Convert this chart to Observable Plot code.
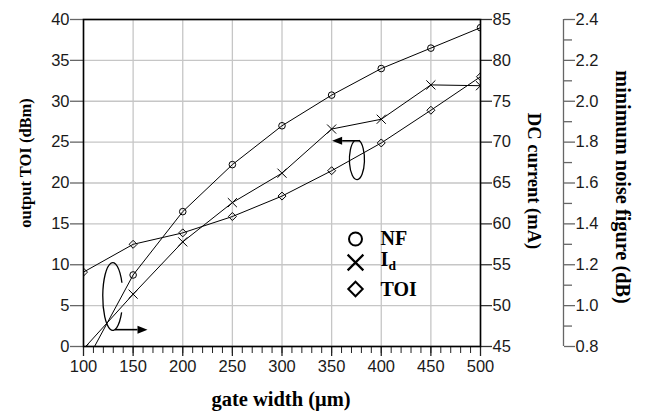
<!DOCTYPE html>
<html>
<head>
<meta charset="utf-8">
<script src="https://cdn.jsdelivr.net/npm/d3@7"></script>
<script src="https://cdn.jsdelivr.net/npm/@observablehq/plot@0.6"></script>
<style>
  html, body { margin: 0; padding: 0; background: #fff; }
</style>
</head>
<body>
<div id="chart"></div>
<script>
// ---- data ----
const gateWidth   = [100, 150, 200, 250, 300, 350, 400, 450, 500];      // µm
const noiseFigure = [0.70, 1.15, 1.46, 1.69, 1.88, 2.03, 2.16, 2.26, 2.36]; // dB
const dcCurrent   = [44.7, 51.4, 57.8, 62.6, 66.2, 71.6, 72.8, 77.0, 76.9]; // mA
const outputTOI   = [9.1, 12.5, 13.9, 15.9, 18.4, 21.5, 24.9, 28.9, 33.0];  // dBm

// ---- tick labels ----
const xTicks     = [100, 150, 200, 250, 300, 350, 400, 450, 500];
const xMinor     = d3.range(100, 501, 10);
const toiTicks   = [0, 5, 10, 15, 20, 25, 30, 35, 40];
const dcTicks    = [45, 50, 55, 60, 65, 70, 75, 80, 85];
const nfTicks    = [0.8, 1.0, 1.2, 1.4, 1.6, 1.8, 2.0, 2.2, 2.4];
const nfMinor    = [0.9, 1.1, 1.3, 1.5, 1.7, 1.9, 2.1, 2.3];

// ---- legend ----
const legendItems = ["NF", "I", "TOI"];

// ---- axis mappings onto the left (TOI) scale ----
const dcToY = d => d - 45;
const yToDc = t => t + 45;
const nfToY = n => (n - 0.8) / 1.6 * 40;
const yToNf = t => 0.8 + t / 40 * 1.6;

const nfData  = gateWidth.map((g, i) => ({g, v: nfToY(noiseFigure[i])}));
const dcData  = gateWidth.map((g, i) => ({g, v: dcToY(dcCurrent[i])}));
const toiData = gateWidth.map((g, i) => ({g, v: outputTOI[i]}));

// ---- annotation anchors (data units) ----
const loops  = [
  {cx: 376, cy: 22.8, rx: 7.6, ry: 2.44, a0: 285, a1: 610},
  {cx: 130, cy: 6.05, rx: 10.1, ry: 4.15, a0: 28, a1: 336}
];
const arrows = [
  {x1: 379, y1: 25.1, x2: 351, y2: 25.1},
  {x1: 132, y1: 2.0, x2: 165, y2: 2.0}
];

function annotations(index, scales) {
  const x = scales.x, y = scales.y;
  const g = d3.create("svg:g").attr("fill", "none").attr("stroke", "black").attr("stroke-width", 1.3);
  for (const L of loops) {
    const cx = x(L.cx), cy = y(L.cy);
    const rx = Math.abs(x(L.cx + L.rx) - cx), ry = Math.abs(y(L.cy + L.ry) - cy);
    const p = a => [cx + rx * Math.cos(a * Math.PI / 180), cy + ry * Math.sin(a * Math.PI / 180)];
    const am = (L.a0 + L.a1) / 2;
    const [p0, pm, p1] = [p(L.a0), p(am), p(L.a1)];
    g.append("path").attr("d",
      `M${p0}A${rx},${ry} 0 0 1 ${pm}A${rx},${ry} 0 0 1 ${p1}`);
  }
  for (const A of arrows) {
    const X1 = x(A.x1), Y1 = y(A.y1), X2 = x(A.x2), Y2 = y(A.y2);
    const dir = Math.sign(X2 - X1);
    const hl = 10, hw = 4;
    g.append("line").attr("x1", X1).attr("y1", Y1).attr("x2", X2 - dir * hl).attr("y2", Y2).attr("stroke-width", 1.6);
    g.append("path").attr("d", `M${X2},${Y2}L${X2 - dir * hl},${Y2 - hw}L${X2 - dir * hl},${Y2 + hw}Z`)
      .attr("fill", "black").attr("stroke", "none");
  }
  return g.node();
}

const serif = "'Liberation Serif', 'Times New Roman', serif";
const titleStyle = {fontFamily: serif, fontWeight: "bold", fontSize: 17, fill: "black", textAnchor: "middle", lineAnchor: "middle"};

const chart = Plot.plot({
  width: 656,
  height: 417,
  marginLeft: 83,
  marginRight: 176,
  marginTop: 19,
  marginBottom: 71,
  x: {domain: [100, 500]},
  y: {domain: [0, 40]},
  style: {fontFamily: "'Liberation Sans', Arial, sans-serif", fontSize: "16.5px", color: "#1a1a1a", background: "#fff"},
  marks: [
    Plot.gridX(xTicks, {stroke: "#c6c6c6", strokeOpacity: 1, strokeWidth: 1.3}),
    Plot.gridY(toiTicks, {stroke: "#c6c6c6", strokeOpacity: 1, strokeWidth: 1.3}),
    // bottom axis
    Plot.axisX({ticks: xMinor, tickSize: 7, tickFormat: () => "", label: null, stroke: "#222"}),
    Plot.axisX({ticks: xTicks, tickSize: 10, tickPadding: 4, label: null, stroke: "#222", strokeWidth: 1.3}),
    // left axis (TOI)
    Plot.axisY({ticks: toiTicks, tickSize: 13, tickPadding: 1, label: null, stroke: "#666", strokeWidth: 1.3}),
    // right axis (DC current)
    Plot.axisY({anchor: "right", ticks: dcTicks.map(dcToY), tickFormat: t => String(Math.round(yToDc(t))),
      tickSize: 11, tickPadding: 1, label: null, stroke: "#333", strokeWidth: 1.3}),
    // far-right axis (noise figure)
    Plot.ruleX([500], {y1: 0, y2: 40, dx: 83, stroke: "#666", strokeWidth: 1.3}),
    Plot.axisY({anchor: "right", ticks: nfMinor.map(nfToY), tickSize: 8, tickFormat: () => "",
      label: null, dx: 83, stroke: "#666", strokeWidth: 1.3}),
    Plot.axisY({anchor: "right", ticks: nfTicks.map(nfToY), tickFormat: t => yToNf(t).toFixed(1),
      tickSize: 11, tickPadding: 1, label: null, dx: 83, stroke: "#666", strokeWidth: 1.3}),
    Plot.frame({stroke: "black", strokeWidth: 1.6}),
    // series
    Plot.line(nfData,  {x: "g", y: "v", stroke: "black", strokeWidth: 1, clip: true}),
    Plot.line(dcData,  {x: "g", y: "v", stroke: "black", strokeWidth: 1, clip: true}),
    Plot.line(toiData, {x: "g", y: "v", stroke: "black", strokeWidth: 1, clip: true}),
    Plot.dot(nfData,  {x: "g", y: "v", symbol: "circle", r: 3.3, stroke: "black", fill: "none", strokeWidth: 1, clip: true}),
    Plot.dot(dcData,  {x: "g", y: "v", symbol: "times", r: 4.2, stroke: "black", fill: "none", strokeWidth: 1, clip: true}),
    Plot.dot(toiData, {x: "g", y: "v", symbol: "diamond2", r: 3.6, stroke: "black", fill: "none", strokeWidth: 1, clip: true}),
    // annotations
    annotations,
    // legend
    Plot.dot([legendItems[0]], {frameAnchor: "top-left", dx: 272, dy: 219.5, symbol: "circle", r: 6.5, stroke: "black", fill: "none", strokeWidth: 2}),
    Plot.dot([legendItems[1]], {frameAnchor: "top-left", dx: 272, dy: 243, symbol: "times", r: 7.2, stroke: "black", fill: "none", strokeWidth: 2.2}),
    Plot.dot([legendItems[2]], {frameAnchor: "top-left", dx: 272, dy: 269.5, symbol: "diamond2", r: 6.5, stroke: "black", fill: "none", strokeWidth: 2}),
    Plot.text([legendItems[0]], {frameAnchor: "top-left", dx: 297, dy: 219.5, ...titleStyle, textAnchor: "start", fontSize: 20}),
    Plot.text([legendItems[1]], {frameAnchor: "top-left", dx: 297, dy: 240, ...titleStyle, textAnchor: "start", fontSize: 20}),
    Plot.text(["d"], {frameAnchor: "top-left", dx: 305, dy: 246, ...titleStyle, textAnchor: "start", fontSize: 13.5}),
    Plot.text([legendItems[2]], {frameAnchor: "top-left", dx: 297, dy: 270, ...titleStyle, textAnchor: "start", fontSize: 20}),
    // axis titles
    Plot.text(["output TOI (dBm)"], {frameAnchor: "left", rotate: -90, dx: -58, dy: -20, ...titleStyle, fontSize: 16.5}),
    Plot.text(["gate width (μm)"], {frameAnchor: "bottom", dx: -1, dy: 53, ...titleStyle, fontSize: 20.5}),
    Plot.text(["DC current (mA)"], {frameAnchor: "right", rotate: 90, dx: 53, dy: -2, ...titleStyle, fontSize: 18.5}),
    Plot.text(["minimum noise figure (dB)"], {frameAnchor: "right", rotate: 90, dx: 142, dy: 4, ...titleStyle, fontSize: 20.3})
  ]
});

document.getElementById("chart").appendChild(chart);
</script>
</body>
</html>
